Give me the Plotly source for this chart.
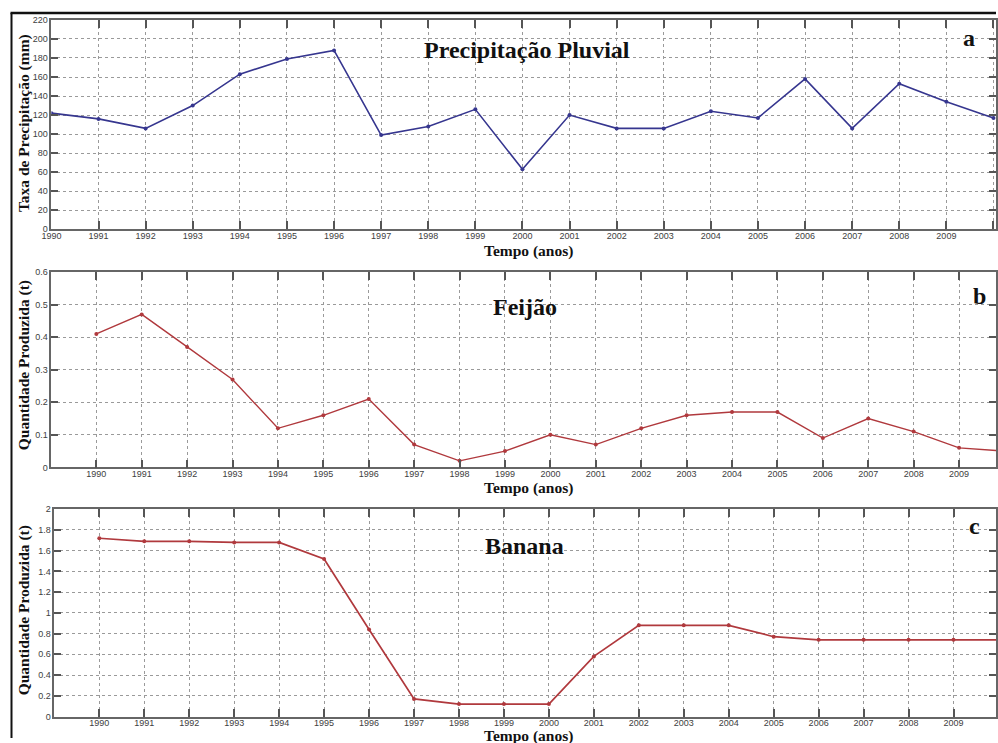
import plotly.graph_objects as go

W, H = 998, 743

years = list(range(1990, 2011))
precipitacao = [122, 116, 106, 130, 163, 179, 188, 99, 108, 126, 63, 120, 106, 106, 124, 117, 158, 106, 153, 134, 117]
feijao = [0.41, 0.47, 0.37, 0.27, 0.12, 0.16, 0.21, 0.07, 0.02, 0.05, 0.10, 0.07, 0.12, 0.16, 0.17, 0.17, 0.09, 0.15, 0.11, 0.06, 0.05]
banana = [1.72, 1.69, 1.69, 1.68, 1.68, 1.52, 0.84, 0.17, 0.12, 0.12, 0.12, 0.58, 0.88, 0.88, 0.88, 0.77, 0.74, 0.74, 0.74, 0.74, 0.74]

tick_years = years
ticks_a = list(range(0, 221, 20))
ticks_b = [0, 0.1, 0.2, 0.3, 0.4, 0.5, 0.6]
ticks_c = [0, 0.2, 0.4, 0.6, 0.8, 1, 1.2, 1.4, 1.6, 1.8, 2]

# page-capture compensation (measured): shown = OFF + S * internal
S, OFFX, OFFY = 0.99, 8.5, 3.0


def ix(t):
    return (t - OFFX) / S


def iy(t):
    return (t - OFFY) / S


def px_x(t):
    return min(max(ix(t) / W, 0), 1)


def px_y(t):
    return min(max(1 - iy(t) / H, 0), 1)


def xrange_for(left_t, year0, year0_t, spacing_t):
    d0 = max(ix(left_t), 0)
    d1 = W
    isp = spacing_t / S
    p0 = ix(year0_t)
    return [year0 - (p0 - d0) / isp, year0 + (d1 - p0) / isp]


BLUE = "#36368f"
RED = "#b0393d"
SERIF = "Liberation Serif, Times New Roman, serif"
TICKFONT = dict(family="Liberation Sans Narrow, Arial Narrow, Liberation Sans, Arial", size=9, color="#404040")

fig = go.Figure()
fig.add_trace(go.Scatter(x=years, y=precipitacao, mode="lines+markers", xaxis="x", yaxis="y",
                         line=dict(color=BLUE, width=1.6), marker=dict(color=BLUE, size=4)))
fig.add_trace(go.Scatter(x=years, y=feijao, mode="lines+markers", xaxis="x2", yaxis="y2",
                         line=dict(color=RED, width=1.4), marker=dict(color=RED, size=4)))
fig.add_trace(go.Scatter(x=years, y=banana, mode="lines+markers", xaxis="x3", yaxis="y3",
                         line=dict(color=RED, width=1.7), marker=dict(color=RED, size=4)))

common_x = dict(showgrid=True, gridcolor="#9a9a9a", griddash="dot", gridwidth=1,
                showline=True, linecolor="#666", linewidth=1.5, mirror="ticks",
                ticks="inside", ticklen=8, tickwidth=1.5, tickcolor="#555",
                tickfont=TICKFONT, tickmode="array", tickvals=tick_years,
                ticktext=[str(v) for v in tick_years], zeroline=False,
                ticklabelstandoff=-3)
common_y = dict(showgrid=True, gridcolor="#9a9a9a", griddash="dot", gridwidth=1,
                showline=True, linecolor="#666", linewidth=1.5, mirror="ticks",
                ticks="inside", ticklen=7, tickwidth=1.5, tickcolor="#555",
                tickfont=TICKFONT, zeroline=False, tickmode="array")

layout = dict(
    width=W, height=H, margin=dict(l=0, r=0, t=0, b=0),
    paper_bgcolor="white", plot_bgcolor="white", showlegend=False,
    xaxis=dict(common_x, domain=[px_x(50), 1], range=xrange_for(50, 1990, 50, 47.2), anchor="y"),
    yaxis=dict(common_y, domain=[px_y(228), px_y(18)], range=[0, 220], tickvals=ticks_a,
               ticktext=[str(v) for v in ticks_a], anchor="x"),
    xaxis2=dict(common_x, domain=[px_x(50), 1], range=xrange_for(50, 1990, 95, 45.5), anchor="y2"),
    yaxis2=dict(common_y, domain=[px_y(467), px_y(271)], range=[0, 0.6], tickvals=ticks_b,
                ticktext=["0", "0.1", "0.2", "0.3", "0.4", "0.5", "0.6"], anchor="x2"),
    xaxis3=dict(common_x, domain=[px_x(53), 1], range=xrange_for(53, 1990, 98, 45.05), anchor="y3"),
    yaxis3=dict(common_y, domain=[px_y(717), px_y(509)], range=[0, 2], tickvals=ticks_c,
                ticktext=["0", "0.2", "0.4", "0.6", "0.8", "1", "1.2", "1.4", "1.6", "1.8", "2"], anchor="x3"),
)
fig.update_layout(**layout)


def ann(text, x, y, size, angle=0):
    fig.add_annotation(text=text, x=px_x(x), y=px_y(y), xref="paper", yref="paper",
                       showarrow=False, textangle=angle, xanchor="center", yanchor="middle",
                       font=dict(family=SERIF, size=size, color="#111"))


ann("<b>Precipitação Pluvial</b>", 527, 48, 24)
ann("<b>Feijão</b>", 525, 306, 24)
ann("<b>Banana</b>", 524, 546, 24)
ann("<b>a</b>", 969, 36, 24)
ann("<b>b</b>", 980, 295, 24)
ann("<b>c</b>", 975, 526, 24)
ann("<b>Taxa de Precipitação (mm)</b>", 22, 121, 15.5, -90)
ann("<b>Quantidade Produzida (t)</b>", 22, 364, 15.5, -90)
ann("<b>Quantidade Produzida (t)</b>", 22, 610, 15.5, -90)
ann("<b>Tempo (anos)</b>", 528, 250, 15.5)
ann("<b>Tempo (anos)</b>", 528, 488, 15.5)
ann("<b>Tempo (anos)</b>", 528, 737, 15.5)

# outer frame
fig.add_shape(type="line", xref="paper", yref="paper", x0=px_x(9), x1=1, y0=px_y(11), y1=px_y(11),
              line=dict(color="#111", width=2.5))
fig.add_shape(type="line", xref="paper", yref="paper", x0=px_x(10), x1=px_x(10), y0=px_y(11), y1=0,
              line=dict(color="#111", width=2))

fig.write_html(
    "out.html",
    config={"displayModeBar": False},
    post_script="document.body.style.margin='0';document.body.style.padding='0';"
                "document.documentElement.style.overflow='hidden';document.body.style.overflow='hidden';",
)
